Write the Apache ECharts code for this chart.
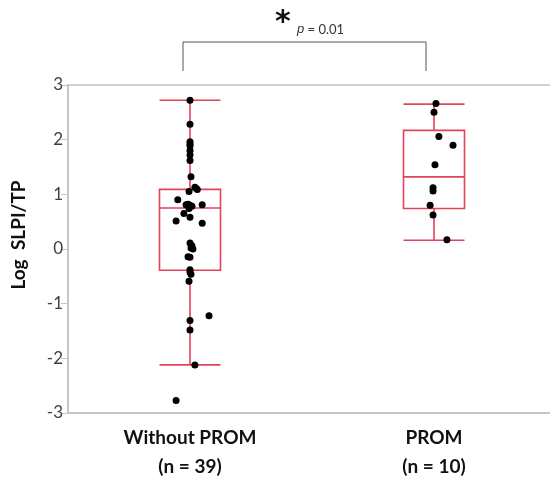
<!DOCTYPE html>
<html>
<head>
<meta charset="utf-8">
<script src="https://cdn.jsdelivr.net/npm/echarts@6/dist/echarts.min.js"></script>
<style>
  html, body { margin: 0; padding: 0; background: #fff; }
  #chart { width: 550px; height: 477px; }
</style>
</head>
<body>
<div id="chart"></div>
<script>
// groups on the x axis
const groups = ['Without PROM\n(n = 39)', 'PROM\n(n = 10)']

// box summaries: [lower whisker, Q1, median, Q3, upper whisker]
const boxWithout = [-2.12, -0.39, 0.75, 1.09, 2.72]
const boxProm = [0.16, 0.74, 1.32, 2.17, 2.65]

// individual points (log values) and their horizontal jitter (fraction of band)
const ptsWithout = [2.72, 2.28, 1.96, 1.92, 1.89, 1.80, 1.72, 1.62, 1.32, 1.13, 1.11, 1.09, 1.05,
  0.90, 0.82, 0.81, 0.80, 0.78, 0.74, 0.81, 0.65, 0.58, 0.51, 0.47, 0.11, 0.06, 0.02, 0.00,
  -0.14, -0.15, -0.38, -0.42, -0.46, -0.59, -1.22, -1.31, -1.48, -2.12, -2.77]
const jitWithout = [0, 0, 0, 0, 0, 0, 0, 0, 0.004, 0.02, 0.025, 0.03, -0.004,
  -0.05, -0.008, -0.016, 0, 0.008, -0.004, 0.05, -0.025, 0, -0.057, 0.05, 0, 0.008, 0.004, 0.012,
  -0.008, 0, 0, 0, 0.004, -0.004, 0.078, 0, 0, 0.02, -0.057]

const ptsProm = [2.66, 2.50, 2.06, 1.90, 1.54, 1.12, 1.06, 0.80, 0.62, 0.17]
const jitProm = [0.008, 0, 0.02, 0.078, 0.004, -0.004, -0.004, -0.016, -0.004, 0.053]

const yTicks = [-3, -2, -1, 0, 1, 2, 3]

const boxColor = '#e2435c'
const axisGray = '#c2c2c2'

const chart = echarts.init(document.getElementById('chart'))

const scatterData = []
ptsWithout.forEach((v, i) => scatterData.push([0.5 + jitWithout[i], v]))
ptsProm.forEach((v, i) => scatterData.push([1.5 + jitProm[i], v]))

const option = {
  animation: false,
  textStyle: { fontFamily: 'Lato, "Open Sans", sans-serif' },
  grid: {
    left: 68, top: 85, width: 488, height: 328,
    outerBoundsMode: 'none',
    show: true, borderColor: axisGray, borderWidth: 1.5, backgroundColor: '#fff'
  },
  xAxis: [
    {
      type: 'category',
      data: groups,
      boundaryGap: true,
      axisLine: { onZero: false, lineStyle: { color: axisGray, width: 1.5 } },
      axisTick: { length: 4, lineStyle: { color: axisGray } },
      axisLabel: {
        color: '#111', fontWeight: 'bold', fontSize: 19, lineHeight: 29, margin: 10,
        fontFamily: 'Lato, "Open Sans", sans-serif'
      },
      splitLine: { show: false }
    },
    {
      type: 'value', min: 0, max: 2, show: false, position: 'bottom'
    }
  ],
  yAxis: {
    type: 'value',
    min: yTicks[0], max: yTicks[yTicks.length - 1], interval: 1,
    name: 'Log  SLPI/TP',
    nameLocation: 'middle',
    nameGap: 40,
    nameTextStyle: { color: '#111', fontWeight: 'bold', fontSize: 19, padding: [0, 0, 0, 28] },
    axisLine: { show: true, lineStyle: { color: axisGray, width: 1.5 } },
    axisTick: { show: true, length: 7, lineStyle: { color: axisGray } },
    axisLabel: { color: '#404040', fontSize: 17, margin: 5 },
    splitLine: { show: false }
  },
  series: [
    {
      type: 'boxplot',
      xAxisIndex: 0,
      data: [boxWithout, boxProm],
      boxWidth: [61, 61],
      itemStyle: { color: 'rgba(0,0,0,0)', borderColor: boxColor, borderWidth: 1.6 },
      z: 2
    },
    {
      type: 'scatter',
      xAxisIndex: 1,
      data: scatterData,
      symbolSize: 7,
      itemStyle: { color: '#000', opacity: 1 },
      z: 3
    }
  ],
  graphic: [
    {
      type: 'polyline',
      shape: { points: [[183, 71], [183, 42], [426, 42], [426, 71]] },
      style: { stroke: '#555', lineWidth: 1, fill: null }
    },
    {
      type: 'text', left: 275, top: 8,
      style: { text: '*', fontSize: 30, fontWeight: 'bold', fill: '#111', fontFamily: 'DejaVu Sans' }
    },
    {
      type: 'text', left: 297, top: 23,
      style: {
        text: '{i|p} = 0.01',
        fontSize: 13, fill: '#333', fontFamily: 'Lato, sans-serif',
        rich: { i: { fontStyle: 'italic', fontSize: 13, fill: '#333' } }
      }
    }
  ]
}

chart.setOption(option)
</script>
</body>
</html>
